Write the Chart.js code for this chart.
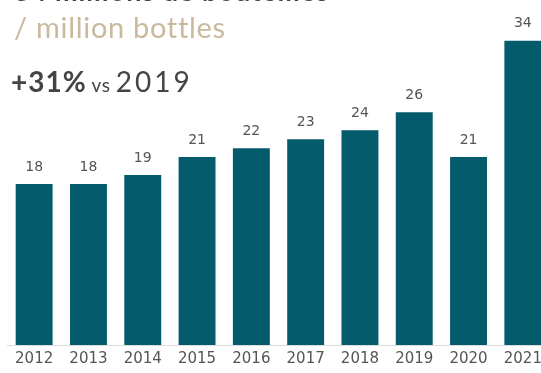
<!DOCTYPE html>
<html>
<head>
<meta charset="utf-8">
<script src="https://cdn.jsdelivr.net/npm/chart.js@4.4.0/dist/chart.umd.min.js"></script>
<style>
  html, body { margin: 0; padding: 0; background: #fff; overflow: hidden; }
  #wrap { position: relative; width: 552px; height: 373px; }
  .txt { position: absolute; font-family: Lato, "Open Sans", sans-serif; white-space: nowrap; }
  #cut { left: 14px; top: -26px; font-size: 27px; font-weight: bold; color: #444; letter-spacing: 1px; }
  #unit { left: 14px; top: 9px; font-size: 29px; color: #c9b99d; letter-spacing: 0.7px; }
  #growth { left: 11px; top: 64px; font-size: 28px; color: #444; }
  #growth b { font-weight: bold; letter-spacing: 1px; }
  #growth small { font-size: 19px; letter-spacing: 0.5px; }
  #growth span { letter-spacing: 3px; }
</style>
</head>
<body>
<div id="wrap">
  <canvas id="chartCanvas" width="552" height="373"></canvas>
  <div class="txt" id="cut">34 millions de bouteilles</div>
  <div class="txt" id="unit">/ million bottles</div>
  <div class="txt" id="growth"><b>+31%</b><small> vs </small><span>2019</span></div>
</div>
<script>
const years = ["2012", "2013", "2014", "2015", "2016", "2017", "2018", "2019", "2020", "2021"];
const bottles = [18, 18, 19, 21, 22, 23, 24, 26, 21, 34];

const barLabels = {
  id: "barLabels",
  afterDatasetsDraw(chart) {
    const ctx = chart.ctx;
    const meta = chart.getDatasetMeta(0);
    ctx.save();
    ctx.font = "14px 'DejaVu Sans', sans-serif";
    ctx.fillStyle = "#555";
    ctx.textAlign = "center";
    ctx.textBaseline = "middle";
    meta.data.forEach((bar, i) => {
      ctx.fillText(bottles[i], bar.x, bar.y - 17);
    });
    ctx.restore();
  }
};

new Chart(document.getElementById("chartCanvas"), {
  type: "bar",
  data: {
    labels: years,
    datasets: [{ data: bottles, backgroundColor: "#035b6b", barPercentage: 0.68, categoryPercentage: 1 }]
  },
  options: {
    responsive: false,
    animation: false,
    layout: { padding: { left: 7, right: 2, top: 5, bottom: 0 } },
    plugins: { legend: { display: false }, tooltip: { enabled: false } },
    scales: {
      x: {
        grid: { display: false, drawTicks: false },
        border: { display: true, color: "#dcdcdc", width: 1 },
        ticks: { color: "#555", font: { size: 15, family: "'DejaVu Sans', sans-serif" }, padding: 5 }
      },
      y: { display: false, min: 0, max: 38 }
    }
  },
  plugins: [barLabels]
});
</script>
</body>
</html>
